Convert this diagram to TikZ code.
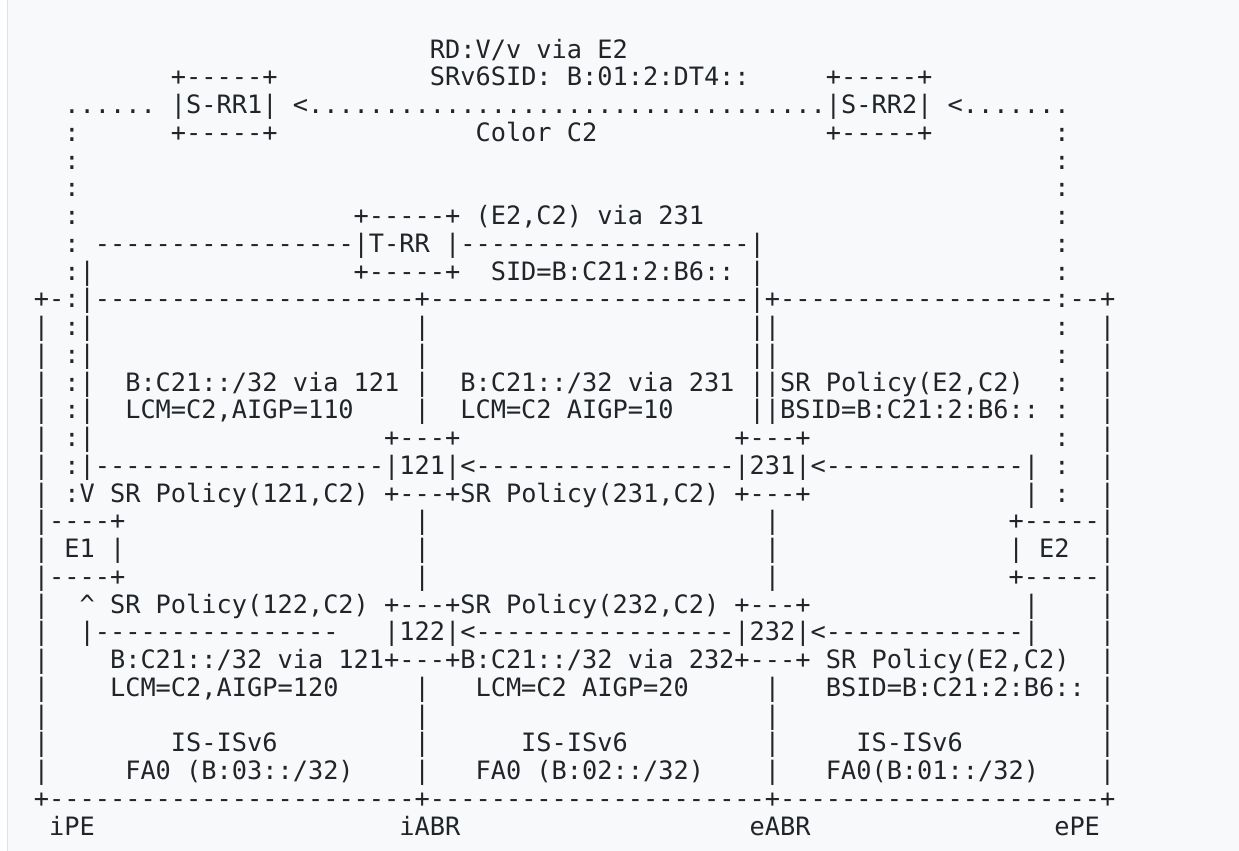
\documentclass[tikz,border=0pt]{standalone}
\usepackage{fontspec}
\setmonofont{DejaVu Sans Mono}

\definecolor{ink}{HTML}{212529}
\definecolor{paper}{HTML}{F8F9FA}
\definecolor{rule}{HTML}{DEE2E6}

\tikzset{asc/.style={anchor=base west, inner sep=0pt, outer sep=0pt, text=ink,
    font=\ttfamily\fontsize{25.3pt}{27.75pt}\selectfont\frenchspacing}}

\begin{document}
\begin{tikzpicture}[x=15.23pt, y=-27.75pt]
    % page
    \useasboundingbox (-2.226,-1.097) rectangle (79.13,29.57);
    \fill [paper] (-1.766,-1.097) rectangle (79.13,29.57);
    \draw [rule, line width=1pt] (-1.766,-1.097) -- (-1.766,29.57);

    % service route reflectors
    \foreach \col/\txt in {26/{RD:V/v via E2}} \node (r1-\col) [asc] at (\col,1) {\txt};
    \foreach \col/\txt in {9/{+-----+}, 26/{SRv6SID: B:01:2:DT4::}, 52/{+-----+}} \node (r2-\col) [asc] at (\col,2) {\txt};
    \foreach \col/\txt in {2/{...... |S-RR1| <..................................|S-RR2| <.......}} \node (r3-\col) [asc] at (\col,3) {\txt};
    \foreach \col/\txt in {2/{:}, 9/{+-----+}, 29/{Color C2}, 52/{+-----+}, 67/{:}} \node (r4-\col) [asc] at (\col,4) {\txt};
    \foreach \col/\txt in {2/{:}, 67/{:}} \node (r5-\col) [asc] at (\col,5) {\txt};
    \foreach \col/\txt in {2/{:}, 67/{:}} \node (r6-\col) [asc] at (\col,6) {\txt};

    % transport route reflector
    \foreach \col/\txt in {2/{:}, 21/{+-----+ (E2,C2) via 231}, 67/{:}} \node (r7-\col) [asc] at (\col,7) {\txt};
    \foreach \col/\txt in {2/{: -----------------|T-RR |-------------------|}, 67/{:}} \node (r8-\col) [asc] at (\col,8) {\txt};
    \foreach \col/\txt in {2/{:|}, 21/{+-----+}, 30/{SID=B:C21:2:B6:: |}, 67/{:}} \node (r9-\col) [asc] at (\col,9) {\txt};

    % domains
    \foreach \col/\txt in {0/{+-:|---------------------+---------------------|+------------------:--+}} \node (r10-\col) [asc] at (\col,10) {\txt};
    \foreach \col/\txt in {0/{| :|}, 25/{|}, 47/{||}, 67/{:}, 70/{|}} \node (r11-\col) [asc] at (\col,11) {\txt};
    \foreach \col/\txt in {0/{| :|}, 25/{|}, 47/{||}, 67/{:}, 70/{|}} \node (r12-\col) [asc] at (\col,12) {\txt};
    \foreach \col/\txt in {0/{| :|}, 6/{B:C21::/32 via 121 |}, 28/{B:C21::/32 via 231 ||SR Policy(E2,C2)}, 67/{:}, 70/{|}} \node (r13-\col) [asc] at (\col,13) {\txt};
    \foreach \col/\txt in {0/{| :|}, 6/{LCM=C2,AIGP=110}, 25/{|}, 28/{LCM=C2 AIGP=10}, 47/{||BSID=B:C21:2:B6:: :}, 70/{|}} \node (r14-\col) [asc] at (\col,14) {\txt};
    \foreach \col/\txt in {0/{| :|}, 23/{+---+}, 46/{+---+}, 67/{:}, 70/{|}} \node (r15-\col) [asc] at (\col,15) {\txt};
    \foreach \col/\txt in {0/{| :|-------------------|121|<-----------------|231|<-------------| :}, 70/{|}} \node (r16-\col) [asc] at (\col,16) {\txt};
    \foreach \col/\txt in {0/{| :V SR Policy(121,C2) +---+SR Policy(231,C2) +---+}, 65/{| :}, 70/{|}} \node (r17-\col) [asc] at (\col,17) {\txt};

    % edge routers
    \foreach \col/\txt in {0/{|----+}, 25/{|}, 48/{|}, 64/{+-----|}} \node (r18-\col) [asc] at (\col,18) {\txt};
    \foreach \col/\txt in {0/{| E1 |}, 25/{|}, 48/{|}, 64/{| E2}, 70/{|}} \node (r19-\col) [asc] at (\col,19) {\txt};
    \foreach \col/\txt in {0/{|----+}, 25/{|}, 48/{|}, 64/{+-----|}} \node (r20-\col) [asc] at (\col,20) {\txt};

    % second plane
    \foreach \col/\txt in {0/{|}, 3/{\textasciicircum{} SR Policy(122,C2) +---+SR Policy(232,C2) +---+}, 65/{|}, 70/{|}} \node (r21-\col) [asc] at (\col,21) {\txt};
    \foreach \col/\txt in {0/{|}, 3/{|----------------}, 23/{|122|<-----------------|232|<-------------|}, 70/{|}} \node (r22-\col) [asc] at (\col,22) {\txt};
    \foreach \col/\txt in {0/{|}, 5/{B:C21::/32 via 121+---+B:C21::/32 via 232+---+ SR Policy(E2,C2)}, 70/{|}} \node (r23-\col) [asc] at (\col,23) {\txt};
    \foreach \col/\txt in {0/{|}, 5/{LCM=C2,AIGP=120}, 25/{|}, 29/{LCM=C2 AIGP=20}, 48/{|}, 52/{BSID=B:C21:2:B6:: |}} \node (r24-\col) [asc] at (\col,24) {\txt};
    \foreach \col/\txt in {0/{|}, 25/{|}, 48/{|}, 70/{|}} \node (r25-\col) [asc] at (\col,25) {\txt};

    % IGP domains
    \foreach \col/\txt in {0/{|}, 9/{IS-ISv6}, 25/{|}, 32/{IS-ISv6}, 48/{|}, 54/{IS-ISv6}, 70/{|}} \node (r26-\col) [asc] at (\col,26) {\txt};
    \foreach \col/\txt in {0/{|}, 6/{FA0 (B:03::/32)}, 25/{|}, 29/{FA0 (B:02::/32)}, 48/{|}, 52/{FA0(B:01::/32)}, 70/{|}} \node (r27-\col) [asc] at (\col,27) {\txt};
    \foreach \col/\txt in {0/{+------------------------+----------------------+---------------------+}} \node (r28-\col) [asc] at (\col,28) {\txt};
    \foreach \col/\txt in {1/{iPE}, 24/{iABR}, 47/{eABR}, 67/{ePE}} \node (r29-\col) [asc] at (\col,29) {\txt};
\end{tikzpicture}
\end{document}
